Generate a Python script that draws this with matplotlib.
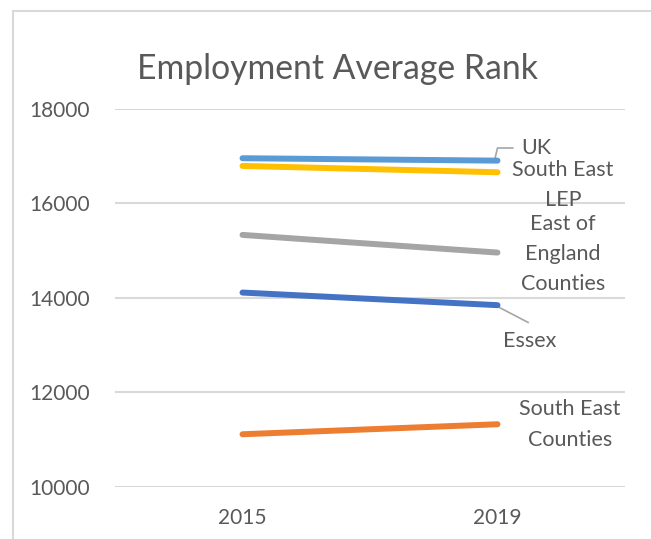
import matplotlib.pyplot as plt
from matplotlib.patches import Rectangle

years = ['2015', '2019']
uk = [16957, 16906]
south_east_lep = [16794, 16660]
east_england = [15333, 14959]
essex = [14112, 13845]
south_east_counties = [11111, 11323]

series = [
    ('UK', uk, '#5B9BD5'),
    ('South East LEP', south_east_lep, '#FFC000'),
    ('East of England Counties', east_england, '#A5A5A5'),
    ('Essex', essex, '#4472C4'),
    ('South East Counties', south_east_counties, '#ED7D31'),
]

plt.rcParams['font.family'] = ['Lato', 'DejaVu Sans']
grey = '#595959'

fig = plt.figure(figsize=(6.51, 5.39), dpi=100)
ax = fig.add_axes([0.1767, 0.0970, 0.7833, 0.7008])

x = range(len(years))
for name, vals, col in series:
    ax.plot(x, vals, color=col, lw=4.3, solid_capstyle='round', zorder=3)

ax.set_xlim(-0.5, 1.5)
ax.set_ylim(10000, 18000)
ax.set_yticks(range(10000, 18001, 2000))
ax.set_xticks(list(x))
ax.set_xticklabels(years)
ax.grid(axis='y', color='#D9D9D9', lw=1.5)
ax.set_axisbelow(True)
for s in ax.spines.values():
    s.set_visible(False)
ax.tick_params(length=0, labelsize=15, colors=grey)
ax.tick_params(axis='y', pad=18)
ax.tick_params(axis='x', pad=15)

# series labels at the right-hand end
lab = dict(fontsize=15.5, color=grey, linespacing=1.65, va='center')
ax.text(1.092, 17174, 'UK', ha='left', **lab)
ax.text(1.257, 16390, 'South East\nLEP', ha='center', **lab)
ax.text(1.257, 14928, 'East of\nEngland\nCounties', ha='center', **lab)
ax.text(1.127, 13085, 'Essex', ha='center', **lab)
ax.text(1.284, 11316, 'South East\nCounties', ha='center', **lab)

# leader lines
ax.plot([0.99, 1.0, 1.06], [uk[1] + 40, 17174, 17174], color='#A6A6A6', lw=1.2, zorder=2)
ax.plot([0.99, 1.12], [essex[1], 13480], color='#A6A6A6', lw=1.2, zorder=2)

fig.text(0.518, 0.872, 'Employment Average Rank', fontsize=24.3, color=grey,
         ha='center', va='center')

# chart area border
fig.patches.append(Rectangle((13 / 651, -0.1), 1.0, 1 - 11 / 539 + 0.1,
                             transform=fig.transFigure, fill=False,
                             edgecolor='#D9D9D9', lw=1.5))

fig.savefig('out.png', dpi=100)
